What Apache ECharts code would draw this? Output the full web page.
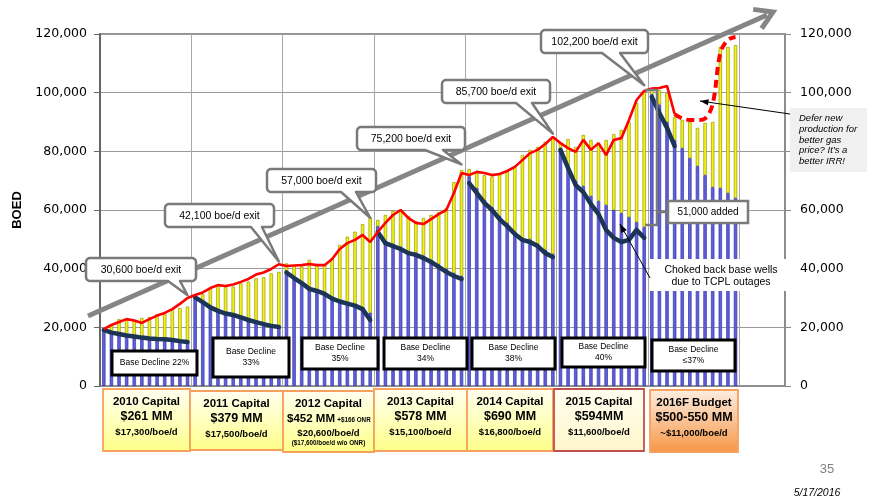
<!DOCTYPE html>
<html><head><meta charset="utf-8">
<script src="https://cdn.jsdelivr.net/npm/echarts@6/dist/echarts.min.js"></script>
<style>html,body{margin:0;padding:0;background:#fff}#c{width:869px;height:503px}</style>
</head><body><div id="c"></div>
<script>
// ---------- DATA ----------
const years = ['2010','2011','2012','2013','2014','2015','2016','2017'];
const monthNums = ['01','02','03','04','05','06','07','08','09','10','11','12'];
const axisMonths = 90; // Jan 2010 .. Jun 2017 shown on the axis

// Red line: total production (boe/d), Jan 2010 .. Dec 2016
const totalProduction = [
  19400,20800,21800,22800,22300,21500,22800,24000,24900,26200,28000,30000,
  31000,31900,33400,34400,34100,34600,35500,36500,38000,38700,39900,41500,
  40900,41100,41200,41600,41200,41200,43300,46700,48700,49800,51500,49100,
  52500,55600,58300,60000,57300,55600,55200,56900,58600,60000,65800,72600,
  71900,73000,72600,71900,72300,73300,74700,77000,79400,80500,82500,84900,
  82800,81100,79800,83900,80500,82800,78700,83900,84500,90700,97500,100600,
  101400,101600,102300,92700,91200,90700,90700,91200,96100,113500,118000,119000
];
const forecastStart = 75; // red line dashed from this month on

// Monthly bars: blue = base production, bar top = total
const barBase = [
  19100,18200,17700,17200,16900,16500,16200,16000,15900,15700,15300,15000,
  30200,28600,26800,25600,24700,24200,23400,22500,21800,21100,20500,20100,
  38700,36800,35100,33100,32400,31400,29800,28800,28100,27400,26200,25000,
  54500,49500,48500,47500,46000,45500,44500,43000,41500,40000,38500,37500,
  71500,67500,63500,61000,58000,55500,52500,50500,50000,48500,46500,45000,
  80500,75000,70000,68200,64800,63100,61700,60000,59000,57600,55900,54200,
  99500,96000,90000,83900,81100,77700,75000,71900,67800,67500,65800,64100
];
const barTotal = [
  19500,20500,22800,23000,22500,23200,23500,24500,25200,25900,26600,27100,
  30200,31300,33300,34400,33900,33900,35000,35600,36700,37100,38400,38900,
  41800,41200,40700,43000,41200,41200,43600,48100,50900,52600,55200,57500,
  56600,58300,59700,60000,58000,56200,57300,58300,59300,60700,69500,73600,
  74000,73000,71900,71400,72600,73100,74700,78700,80500,81500,83200,84900,
  82800,84200,81500,85600,83900,82200,83900,85900,87300,90000,96500,100200,
  100900,100900,99900,91700,90700,90000,88000,89700,90000,115600,115600,116200
];

// Base decline curves per capital year
const decline2010 = [19100,18200,17700,17200,16900,16500,16200,16000,15900,15700,15300,15000];
const decline2011 = [30200,28600,26800,25600,24700,24200,23400,22500,21800,21100,20500,20100];
const decline2012 = [38700,36800,35100,33100,32400,31400,29800,28800,28100,27400,26200,22500];
const decline2013 = [52500,48700,47700,46700,45300,44700,43600,42300,40600,38900,37500,36500];
const decline2014 = [69200,65800,62400,60000,56900,54500,51800,49800,49100,47700,45300,44000];
const decline2015 = [80500,74300,68500,66100,62000,58600,53200,50500,49100,49800,53200,50500];
const decline2016 = [98500,93100,88000,81800];
const declineCurves = [decline2010,decline2011,decline2012,decline2013,decline2014,decline2015,decline2016];
const declineStartMonth = [0,12,24,36,48,60,72];

// Exit-rate callouts (month index, value)
const exitLabels = ['30,600 boe/d exit','42,100 boe/d exit','57,000 boe/d exit','75,200 boe/d exit','85,700 boe/d exit','102,200 boe/d exit'];
const exitMonth = [11,23,35,47,59,71];
const exitValue = [30600,42100,57000,75200,85700,102200];

const declineLabels = ['Base Decline 22%','Base Decline\n33%','Base Decline\n35%','Base Decline\n34%','Base Decline\n38%','Base Decline\n40%','Base Decline\n≤37%'];

const capTitle = ['2010 Capital','2011 Capital','2012 Capital','2013 Capital','2014 Capital','2015 Capital','2016F Budget'];
const capAmount = ['$261 MM','$379 MM','$452 MM','$578 MM','$690 MM','$594MM','$500-550 MM'];
const capPerBoe = ['$17,300/boe/d','$17,500/boe/d','$20,600/boe/d','$15,100/boe/d','$16,800/boe/d','$11,600/boe/d','~$11,000/boe/d'];

// ---------- BUILD ----------
const categories = [];
years.forEach(y => monthNums.forEach(m => { if (categories.length < axisMonths) categories.push(y + '-' + m); }));

const pad = (arr, start) => categories.map((_, i) => (i >= start && i < start + arr.length) ? arr[i - start] : null);
const baseBars = pad(barBase, 0);
const addedBars = pad(barTotal.map((t, i) => t - barBase[i]), 0);
const redSolid = categories.map((_, i) => i <= forecastStart && i < totalProduction.length ? totalProduction[i] : null);
const redDash = categories.map((_, i) => i >= forecastStart && i < totalProduction.length ? totalProduction[i] : null);

const F = 'Liberation Sans, Arial, sans-serif';
const FT = 'DejaVu Sans, Verdana, sans-serif';
const chart = echarts.init(document.getElementById('c'), null, {renderer: 'canvas'});

const series = [
  {type:'bar', name:'base', stack:'p', data: baseBars, barWidth: 3.4,
   itemStyle:{color:'#5f5fdc', borderColor:'#3535a8', borderWidth:0.7}, z:2},
  {type:'bar', name:'added', stack:'p', data: addedBars, barWidth: 3.4,
   itemStyle:{color:'#f2f21a', borderColor:'#9a9a00', borderWidth:0.7}, z:2}
];
declineCurves.forEach((c, k) => series.push({
  type:'line', data: pad(c, declineStartMonth[k]), symbol:'none', connectNulls:false,
  lineStyle:{color:'#1c3556', width:4.5, cap:'round', join:'round'}, z:4
}));
series.push({type:'line', data: redSolid, symbol:'none', lineStyle:{color:'#ff0000', width:2.6}, z:5});
series.push({type:'line', data: redDash, symbol:'none', smooth:0.35, lineStyle:{color:'#ff0000', width:4, type:[8,5]}, z:5});

const fmt = v => v.toLocaleString('en-US');
const option = {
  animation:false,
  grid:{left:100, right:84, top:34, bottom:117, show:true, borderColor:'#707070', borderWidth:1.5, backgroundColor:'#fff'},
  xAxis:{type:'category', data:categories, boundaryGap:true,
    axisLine:{show:true, lineStyle:{color:'#8a8a8a', width:1}},
    axisTick:{show:false}, axisLabel:{show:false},
    splitLine:{show:true, interval:11, lineStyle:{color:'#a8a8a8', width:1}}},
  yAxis:[
    {type:'value', min:0, max:120000, interval:20000, position:'left',
     axisLine:{show:true, lineStyle:{color:'#666', width:2}},
     axisTick:{show:true, length:6, lineStyle:{color:'#666'}},
     axisLabel:{formatter:fmt, fontSize:12.5, fontFamily:FT, color:'#000', margin:13},
     splitLine:{show:true, lineStyle:{color:'#9a9a9a', width:1}},
     name:'BOED', nameLocation:'middle', nameGap:72, nameRotate:90,
     nameTextStyle:{fontSize:13, fontWeight:'bold', fontFamily:F, color:'#000'}},
    {type:'value', min:0, max:120000, interval:20000, position:'right',
     axisLine:{show:true, lineStyle:{color:'#888', width:1.5}},
     axisTick:{show:true, length:6, lineStyle:{color:'#888'}},
     axisLabel:{formatter:fmt, fontSize:12.5, fontFamily:FT, color:'#000', margin:15},
     splitLine:{show:false}}
  ],
  series: series
};
chart.setOption(option);

// ---------- ANNOTATIONS ----------
const px = (i, v) => chart.convertToPixel({xAxisIndex:0, yAxisIndex:0}, [i, v]);
const g = [];
const txt = (text, x, y, font, fill, align, extra) => ({
  type:'text', z:120, style:Object.assign({text, x, y, font, fill: fill || '#000',
    textAlign: align || 'center', align: align || 'center', textVerticalAlign:'middle', verticalAlign:'middle'}, extra || {})});

// big grey trend arrow
(function(){
  const a = [88, 316], b = [773, 12];
  g.push({type:'line', z:60, shape:{x1:a[0], y1:a[1], x2:b[0]-6, y2:b[1]+3}, style:{stroke:'#858585', lineWidth:5}});
  const ang = Math.atan2(b[1]-a[1], b[0]-a[0]), L = 20, w = 0.55;
  const p1 = [b[0]-L*Math.cos(ang-w), b[1]-L*Math.sin(ang-w)];
  const p2 = [b[0]-L*Math.cos(ang+w), b[1]-L*Math.sin(ang+w)];
  g.push({type:'polyline', z:60, shape:{points:[p1, b, p2]}, style:{stroke:'#858585', lineWidth:5, fill:null, lineJoin:'miter'}});
})();

// rounded corner helper (returns points along quarter arc)
const arcPts = (cx, cy, r, a0, a1) => { const out = []; for (let s = 0; s <= 4; s++) { const a = a0 + (a1 - a0) * s / 4; out.push([cx + r*Math.cos(a), cy + r*Math.sin(a)]); } return out; };

// exit callouts: box [x, y, w, h], wedge base [x1, x2]
const calloutBoxes = [[86,258,110,23],[165,204,109,23],[267,169,109,23],[357,127,108,23],[442,80,108,23],[541,30,107,23]];
const calloutWedge = [[168,180],[251,262],[341,356],[425,443],[516,532],[602,620]];
exitLabels.forEach((t, k) => {
  const [x0, y0, w, h] = calloutBoxes[k]; const x1 = x0 + w, y1 = y0 + h, r = 4;
  const tip = px(exitMonth[k], exitValue[k]);
  const [b1, b2] = calloutWedge[k];
  const P = Math.PI;
  const pts = [].concat(
    arcPts(x0 + r, y0 + r, r, P, 1.5*P),
    arcPts(x1 - r, y0 + r, r, 1.5*P, 2*P),
    arcPts(x1 - r, y1 - r, r, 0, 0.5*P),
    [[b2, y1], [tip[0], tip[1] - 1], [b1, y1]],
    arcPts(x0 + r, y1 - r, r, 0.5*P, P)
  );
  g.push({type:'polygon', z:100, shape:{points:pts}, style:{fill:'#fff', stroke:'#7a7a7a', lineWidth:2.5, lineJoin:'round'}});
  g.push(txt(t, x0 + w/2, y0 + h/2 + 0.5, '10.5px ' + FT, '#000', 'center', {fontSize:10.5}));
});

// base decline boxes
const declineBoxes = [[112,351,85,24],[213,338,76,39],[302,338,76,31],[384,338,83,31],[472,338,83,31],[562,338,83,29],[652,340,83,31]];
declineLabels.forEach((t, k) => {
  const [x, y, w, h] = declineBoxes[k];
  g.push({type:'rect', z:100, shape:{x, y, width:w, height:h}, style:{fill:'#fff', stroke:'#000', lineWidth:3}});
  g.push(txt(t, x + w/2, y + h/2, '8.5px ' + F, '#000', 'center', {lineHeight:11}));
});

// capital boxes under the chart
const capBoxes = [[103,389,87,62],[190,391,93,59],[283,391,91,61],[374,389,93,62],[467,389,86,62],[554,389,90,62],[650,390,88,62]];
const grad = (c0, c1) => ({type:'linear', x:0, y:0, x2:0, y2:1, colorStops:[{offset:0, color:c0},{offset:1, color:c1}]});
const capFill = k => k === 6 ? grad('#fdeee2', '#f79646') : k === 5 ? grad('#fffdf0', '#fff7cc') : grad('#fffff2', '#ffff88');
capTitle.forEach((t, k) => {
  const [x, y, w, h] = capBoxes[k]; const cx = x + w/2;
  g.push({type:'rect', z:90, shape:{x, y, width:w, height:h}, style:{fill:capFill(k), stroke: k === 5 ? '#c0504d' : '#f6a15e', lineWidth:1.8}});
  g.push(txt(t, cx, y + 13, 'bold 11.5px ' + F, '#000'));
  if (k === 2) {
    g.push(txt('$452 MM', x + 28, y + 28, 'bold 11.5px ' + F, '#000'));
    g.push(txt('+$166 ONR', x + 71, y + 29, 'bold 6.3px ' + F, '#000'));
    g.push(txt(capPerBoe[k], cx, y + 42, 'bold 9.5px ' + F, '#000'));
    g.push(txt('($17,600/boe/d w/o ONR)', cx, y + 52, 'bold 6.3px ' + F, '#000'));
  } else {
    g.push(txt(capAmount[k], cx, y + 28, 'bold 12.5px ' + F, '#000'));
    g.push(txt(capPerBoe[k], cx, y + 43, 'bold 9.5px ' + F, '#000'));
  }
});

// "51,000 added" bracket and box
g.push({type:'polyline', z:95, shape:{points:[[645,90],[657,90],[657,225],[645,225]]}, style:{stroke:'#7a7a7a', lineWidth:2.5, fill:null}});
g.push({type:'line', z:95, shape:{x1:657, y1:212, x2:668, y2:212}, style:{stroke:'#7a7a7a', lineWidth:2.5}});
g.push({type:'rect', z:100, shape:{x:668, y:201, width:80, height:22}, style:{fill:'#fff', stroke:'#7a7a7a', lineWidth:2.5}});
g.push(txt('51,000 added', 708, 212, '10px ' + F, '#000'));

// arrows helper
const arrow = (x1, y1, x2, y2) => {
  g.push({type:'line', z:110, shape:{x1, y1, x2, y2}, style:{stroke:'#000', lineWidth:1}});
  const ang = Math.atan2(y2 - y1, x2 - x1), L = 9, w = 0.35;
  g.push({type:'polygon', z:110, shape:{points:[[x2, y2],[x2 - L*Math.cos(ang-w), y2 - L*Math.sin(ang-w)],[x2 - L*Math.cos(ang+w), y2 - L*Math.sin(ang+w)]]}, style:{fill:'#000'}});
};

// Choked back note
g.push({type:'rect', z:105, shape:{x:650, y:259, width:144, height:32}, style:{fill:'#fff'}});
g.push(txt('Choked back base wells\ndue to TCPL outages', 721, 276, '10.5px ' + F, '#000', 'center', {lineHeight:11.5}));
arrow(650, 278, 620, 224);

// Defer note
g.push({type:'rect', z:105, shape:{x:790, y:108, width:77, height:64}, style:{fill:'#f0f0f0'}});
g.push(txt('Defer new\nproduction for\nbetter gas\nprice? It\u2019s a\nbetter IRR!', 799, 140, 'italic 9.5px ' + F, '#000', 'left', {lineHeight:10.6}));
arrow(790, 114, 700, 101);

// page footer
g.push(txt('35', 827, 469, '13px ' + F, '#7f7f7f'));
g.push(txt('5/17/2016', 817, 493, 'italic 10.5px ' + F, '#000'));

chart.setOption({graphic: g});
</script>
</body></html>
